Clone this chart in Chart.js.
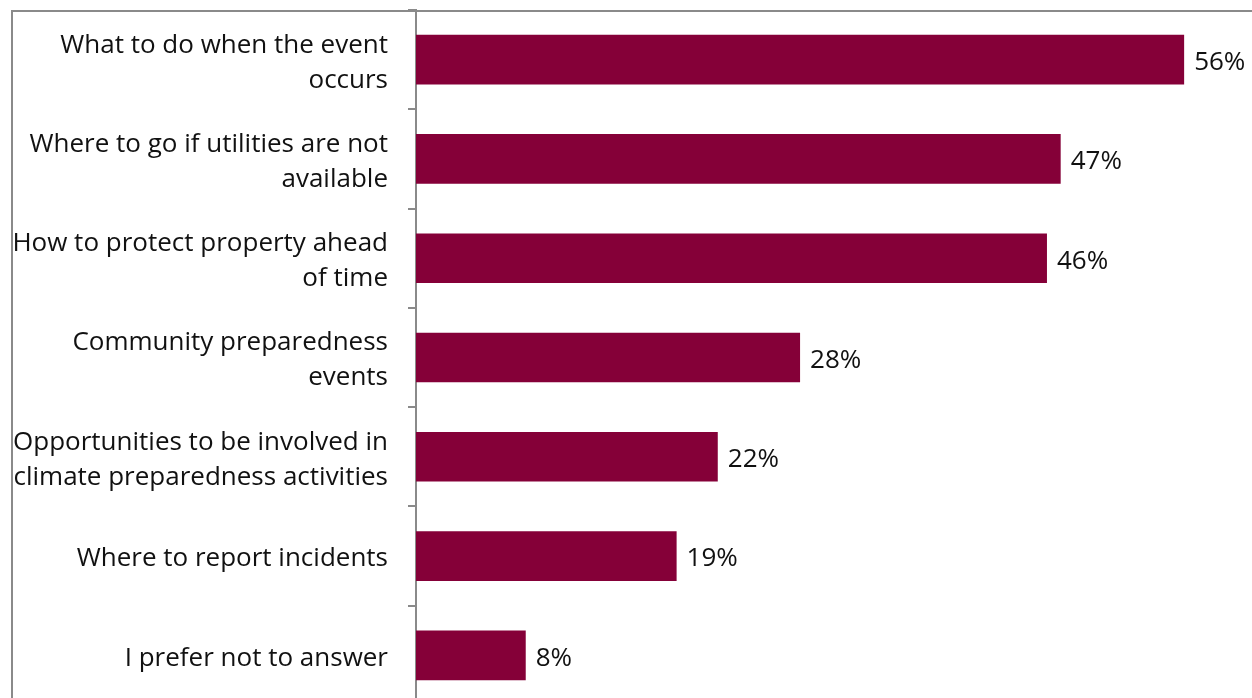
<!DOCTYPE html>
<html>
<head>
<meta charset="utf-8">
<script src="https://cdn.jsdelivr.net/npm/chart.js@4/dist/chart.umd.min.js"></script>
<style>
  html, body { margin: 0; padding: 0; background: #fff; overflow: hidden; }
  #frame {
    position: absolute; left: 11px; top: 10px; width: 1260px; height: 720px;
    border-left: 2px solid #8a8a8a; border-top: 2px solid #8a8a8a;
  }
  #chart { position: absolute; left: 0; top: 0; }
</style>
</head>
<body>
<div id="frame"></div>
<canvas id="chart" width="1252" height="705"></canvas>
<script>
// topics people want to hear about, top to bottom
var topics = [
    ['What to do when the event', 'occurs'],
    ['Where to go if utilities are not', 'available'],
    ['How to protect property ahead', 'of time'],
    ['Community preparedness', 'events'],
    ['Opportunities to be involved in', 'climate preparedness activities'],
    'Where to report incidents',
    'I prefer not to answer'
];
var shares = [56, 47, 46, 28, 22, 19, 8];
var axisMax = 60;

var barColor = '#850038';
var lineColor = '#8a8a8a';
var fontFamily = '"Open Sans", sans-serif';
var fontSize = 26;

// percent labels to the right of each bar
var valueLabels = {
    id: 'valueLabels',
    afterDatasetsDraw: function(chart) {
        var ctx = chart.ctx;
        var meta = chart.getDatasetMeta(0);
        ctx.save();
        ctx.font = fontSize + 'px ' + fontFamily;
        ctx.fillStyle = '#111';
        ctx.textAlign = 'left';
        ctx.textBaseline = 'middle';
        meta.data.forEach(function(bar, i) {
            ctx.fillText(shares[i] + '%', bar.x + 10, bar.y + 3);
        });
        ctx.restore();
    }
};

var ctx = document.getElementById('chart');
var myBarChart = new Chart(ctx, {
    type: 'bar',
    data: {
        labels: topics,
        datasets: [{
            data: shares,
            backgroundColor: barColor,
            categoryPercentage: 1,
            barPercentage: 0.5
        }]
    },
    options: {
        indexAxis: 'y',
        responsive: false,
        animation: false,
        layout: { padding: { top: 10, right: 13, left: 0, bottom: 0 } },
        plugins: {
            legend: { display: false },
            tooltip: { enabled: false }
        },
        scales: {
            x: {
                display: false,
                min: 0,
                max: axisMax
            },
            y: {
                // fixed label column, and no extra room above/below for the labels
                afterFit: function(scale) {
                    scale.width = 416;
                    scale.paddingTop = 0;
                    scale.paddingBottom = 0;
                },
                border: { display: true, color: lineColor, width: 2 },
                grid: {
                    drawOnChartArea: false,
                    drawTicks: true,
                    tickLength: 8,
                    color: lineColor,
                    lineWidth: 2
                },
                ticks: {
                    padding: 20,
                    labelOffset: 3,
                    color: '#111',
                    font: { family: fontFamily, size: fontSize, lineHeight: '35px' }
                }
            }
        }
    },
    plugins: [valueLabels]
});
</script>
</body>
</html>
